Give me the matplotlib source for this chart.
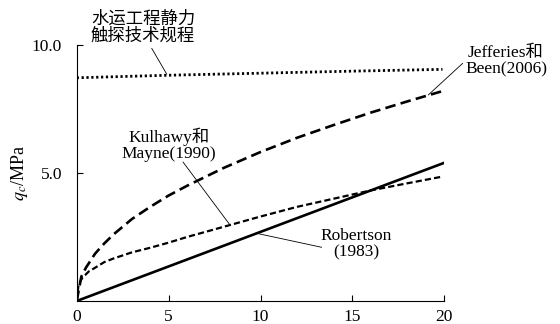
import numpy as np
from matplotlib import pyplot as plt

plt.rcParams['font.family'] = ['Liberation Serif', 'Noto Sans CJK SC']
plt.rcParams['mathtext.fontset'] = 'stix'

# 水运工程静力触探技术规程
code_x = [0, 5, 10, 15, 19.9]
code_y = [8.72, 8.82, 8.90, 8.98, 9.05]

# Jefferies & Been (2006)
jb_x = [0, 0.25, 0.5, 1, 1.5, 2, 3, 4, 5, 6, 8, 10, 12, 14, 16, 18, 19.9]
jb_y = [0, 0.95, 1.3, 1.85, 2.25, 2.6, 3.2, 3.68, 4.12, 4.5, 5.2, 5.82, 6.38, 6.88, 7.36, 7.8, 8.2]

# Kulhawy & Mayne (1990)
km_x = [0, 0.1, 0.3, 0.65, 1, 1.5, 2, 3, 4, 5, 6, 8, 10, 12, 14, 16, 18, 19.9]
km_y = [0, 0.65, 0.9, 1.15, 1.3, 1.52, 1.66, 1.9, 2.08, 2.28, 2.5, 2.9, 3.3, 3.68, 4.0, 4.32, 4.6, 4.86]

# Robertson (1983)
rob_x = [0, 20]
rob_y = [0, 5.4]

x_ticks = [0, 5, 10, 15, 20]
y_ticks = [5.0, 10.0]
y_tick_labels = ["5.0", "10.0"]

fig = plt.figure(figsize=(5.6, 3.24), dpi=100)
ax = fig.add_axes([0.137, 0.071, 0.6564, 0.790])

ax.plot(code_x, code_y, color='k', lw=2.0, linestyle=(0, (0.8, 0.95)))
ax.plot(jb_x, jb_y, color='k', lw=1.9, linestyle=(0, (4, 2)))
ax.plot(km_x, km_y, color='k', lw=1.6, linestyle=(0, (2.8, 1.4)))
ax.plot(rob_x, rob_y, color='k', lw=1.9, solid_capstyle='butt')

ax.set_xlim(0, 20)
ax.set_ylim(0, 10)
ax.spines['top'].set_visible(False)
ax.spines['right'].set_visible(False)
for s in ['left', 'bottom']:
    ax.spines[s].set_linewidth(0.8)

ax.set_xticks(x_ticks)
ax.set_xticklabels([str(t) for t in x_ticks])
ax.set_yticks(y_ticks)
ax.set_yticklabels(y_tick_labels)
ax.tick_params(axis='x', direction='in', length=4, width=0.8, pad=5.5, labelsize=12.5)
ax.tick_params(axis='y', direction='in', length=4, width=0.8, pad=10.5, labelsize=12.5)
ax.xaxis.get_major_ticks()[0].tick1line.set_visible(False)

ax.set_ylabel(r'$q_c$/MPa', fontsize=13, labelpad=1)

arrow = dict(arrowstyle='-', color='k', lw=0.6, shrinkA=0, shrinkB=0)
txt = dict(fontsize=12.5, ha='center', va='center', linespacing=1.0,
           textcoords='figure pixels', annotation_clip=False)

ax.annotate('水运工程静力\n触探技术规程', xy=(4.9, code_y[1] + 0.04), xytext=(143, 296), **txt)
ax.annotate('', xy=(4.9, code_y[1] + 0.04), xytext=(151.7, 275.7),
            textcoords='figure pixels', arrowprops=arrow)

ax.annotate('Jefferies和\nBeen(2006)', xy=(19.13, 8.05), xytext=(506, 263), **txt)
ax.annotate('', xy=(19.13, 8.05), xytext=(462.7, 260.7),
            textcoords='figure pixels', arrowprops=arrow)

ax.annotate('Kulhawy和\nMayne(1990)', xy=(8.34, 2.97), xytext=(169, 179), **txt)
ax.annotate('', xy=(8.34, 2.97), xytext=(183, 162),
            textcoords='figure pixels', arrowprops=arrow)

ax.annotate('Robertson\n(1983)', xy=(9.75, 2.65), xytext=(356, 80), **txt)
ax.annotate('', xy=(9.75, 2.65), xytext=(321.7, 76.7),
            textcoords='figure pixels', arrowprops=arrow)

fig.savefig('out.png', dpi=100)
